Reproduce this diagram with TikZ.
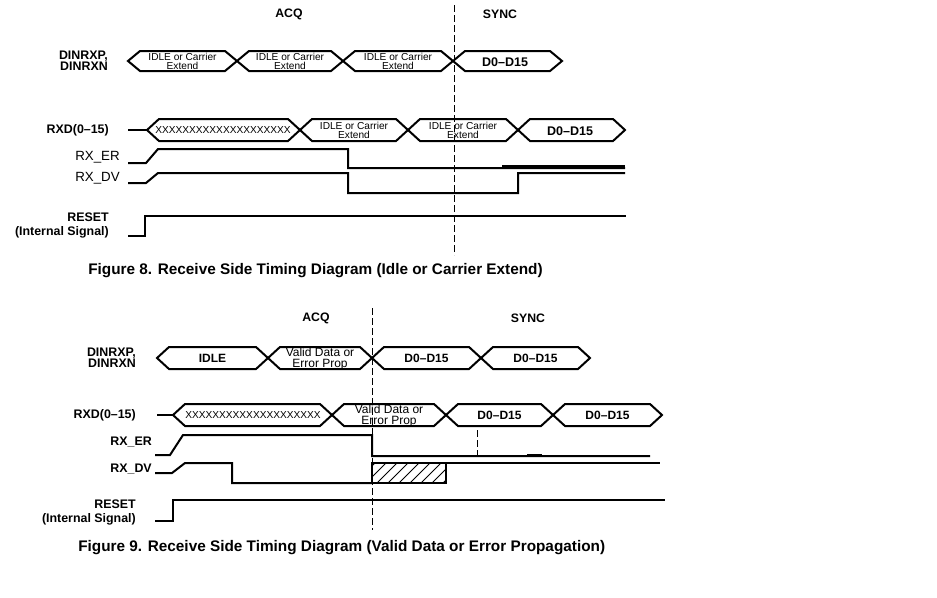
\documentclass[tikz,border=0pt]{standalone}
\usepackage{fontspec}
\setmainfont{Liberation Sans}

\begin{document}
\begin{tikzpicture}[x=0.75pt,y=-0.75pt]
        \tikzset{sig/.style = {line width=1.5pt, line join=miter}};
        \tikzset{bus/.style = {line width=1.5pt, line join=miter}};
        \tikzset{divider/.style = {line width=0.6pt, dash pattern=on 5pt off 2.5pt}};
        \tikzset{lbl/.style = {anchor=east, align=right, inner sep=0pt, font=\bfseries\fontsize{9.3}{8.4}\selectfont}};
        \tikzset{lblthin/.style = {anchor=east, inner sep=0pt, font=\fontsize{10}{11}\selectfont}};
        \tikzset{phase/.style = {inner sep=0pt, font=\bfseries\fontsize{9.2}{10}\selectfont}};
        \tikzset{small/.style = {align=center, inner sep=0pt, font=\fontsize{7.6}{7.1}\selectfont}};
        \tikzset{wide/.style = {align=center, inner sep=0pt, font=\fontsize{9}{8.2}\selectfont}};
        \tikzset{data/.style = {inner sep=0pt, font=\bfseries\fontsize{9.4}{10}\selectfont}};
        \tikzset{caption/.style = {anchor=west, inner sep=0pt, font=\bfseries\fontsize{11.5}{13}\selectfont}};
        \useasboundingbox (0,0) rectangle (937,597);

        % Figure 8
        \node[phase] (acq8) at (289,14) {ACQ};
        \node[phase] (sync8) at (500,14) {SYNC};
        \draw[divider] (454,5) -- (454,255);
        \node[lbl] (din8) at (108,61) {DINRXP,\\DINRXN};
        \node[lbl] (rxd8) at (109,130) {RXD(0--15)};
        \node[lblthin] (er8) at (120,157) {RX\_ER};
        \node[lblthin] (dv8) at (120,178) {RX\_DV};
        \node[lbl, font=\bfseries\fontsize{9.3}{10.5}\selectfont] (rst8) at (109,225) {RESET\\(Internal Signal)};
        \foreach \a/\b/\t in {128/237/{IDLE or Carrier\\Extend}, 237/343/{IDLE or Carrier\\Extend}, 343/453/{IDLE or Carrier\\Extend}} {
            \draw[bus] (\a,61) -- ({\a+12},51) -- ({\b-12},51) -- (\b,61) -- ({\b-12},71) -- ({\a+12},71) -- cycle;
            \node[small] (d8\a) at ({(\a+\b)/2},61.5) {\t};
        }
        \draw[bus] (453,61) -- (465,51) -- (550,51) -- (562,61) -- (550,71) -- (465,71) -- cycle;
        \node[data] (d8s) at (505,62) {D0--D15};
        \draw[sig] (128,130) -- (147,130);
        \foreach \a/\b/\t in {300/408/{IDLE or Carrier\\Extend}, 408/518/{IDLE or Carrier\\Extend}} {
            \draw[bus] (\a,130) -- ({\a+12},119) -- ({\b-12},119) -- (\b,130) -- ({\b-12},141) -- ({\a+12},141) -- cycle;
            \node[small] (r8\a) at ({(\a+\b)/2},130.5) {\t};
        }
        \draw[bus] (147,130) -- (159,119) -- (288,119) -- (300,130) -- (288,141) -- (159,141) -- cycle;
        \node[small] (x8) at (223,130) {XXXXXXXXXXXXXXXXXXXX};
        \draw[bus] (518,130) -- (530,119) -- (613,119) -- (625,130) -- (613,141) -- (530,141) -- cycle;
        \node[data] (r8s) at (570,131) {D0--D15};
        \draw[sig] (128,163) -- (146,163) -- (158,149) -- (348,149) -- (348,168) -- (625,168);
        \draw[line width=2pt] (502,166.5) -- (625,166.5);
        \draw[sig] (128,183) -- (146,183) -- (158,173) -- (348,173) -- (348,193) -- (518,193) -- (518,173) -- (625,173);
        \draw[sig] (128,236) -- (145,236) -- (145,216) -- (626,216);
        \node[caption] (cap8) at (88,271) {Figure 8. Receive Side Timing Diagram (Idle or Carrier Extend)};

        % Figure 9
        \node[phase] (acq9) at (316,318) {ACQ};
        \node[phase] (sync9) at (528,318) {SYNC};
        \draw[divider] (372,308) -- (372,530);
        \node[lbl] (din9) at (136,358) {DINRXP,\\DINRXN};
        \node[lbl] (rxd9) at (136,415) {RXD(0--15)};
        \node[lbl] (er9) at (152,442) {RX\_ER};
        \node[lbl] (dv9) at (152,469) {RX\_DV};
        \node[lbl, font=\bfseries\fontsize{9.3}{10.5}\selectfont] (rst9) at (136,512) {RESET\\(Internal Signal)};
        \foreach \a/\b/\t in {157/268/{\textbf{IDLE}}, 268/372/{Valid Data or\\Error Prop}, 372/481/{\textbf{D0--D15}}, 481/590/{\textbf{D0--D15}}} {
            \draw[bus] (\a,358) -- ({\a+12},347) -- ({\b-12},347) -- (\b,358) -- ({\b-12},369) -- ({\a+12},369) -- cycle;
            \node[wide] (d9\a) at ({(\a+\b)/2},358.5) {\t};
        }
        \draw[sig] (157,415) -- (173,415);
        \foreach \a/\b/\t in {332/446/{Valid Data or\\Error Prop}, 446/553/{\textbf{D0--D15}}, 553/662/{\textbf{D0--D15}}} {
            \draw[bus] (\a,415) -- ({\a+12},404) -- ({\b-12},404) -- (\b,415) -- ({\b-12},426) -- ({\a+12},426) -- cycle;
            \node[wide] (r9\a) at ({(\a+\b)/2},415.5) {\t};
        }
        \draw[bus] (173,415) -- (185,404) -- (320,404) -- (332,415) -- (320,426) -- (185,426) -- cycle;
        \node[small] (x9) at (253,415) {XXXXXXXXXXXXXXXXXXXX};
        \draw[sig] (155,455) -- (170,455) -- (183,435) -- (372,435) -- (372,456) -- (650,456);
        \draw[line width=2.5pt] (527,455.5) -- (542,455.5);
        \draw[divider] (477,430) -- (477,455);
        \draw[sig] (155,473) -- (172,473) -- (185,463) -- (232,463) -- (232,483) -- (372,483);
        \draw[sig] (372,463) -- (660,463);
        \begin{scope}
            \clip (372,463) rectangle (446,483);
            \foreach \x in {355,366,...,450} {
                \draw[line width=0.6pt] (\x,483) -- ++(20,-20);
            }
        \end{scope}
        \draw[sig] (372,463) rectangle (446,483);
        \draw[sig] (155,521) -- (173,521) -- (173,500) -- (665,500);
        \node[caption] (cap9) at (78,548) {Figure 9. Receive Side Timing Diagram (Valid Data or Error Propagation)};
\end{tikzpicture}
\end{document}
